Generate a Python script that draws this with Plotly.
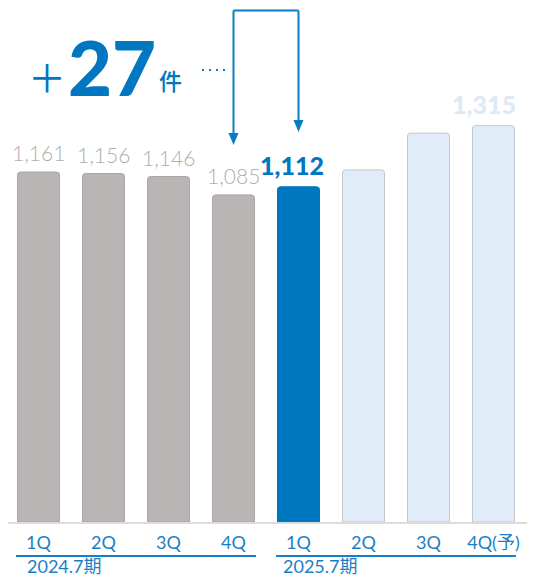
import plotly.graph_objects as go

# ---- data ----
quarters = ["1Q", "2Q", "3Q", "4Q", "1Q", "2Q", "3Q", "4Q(予)"]
values = [1161, 1156, 1146, 1085, 1112, 1168, 1290, 1315]
value_labels = ["1,161", "1,156", "1,146", "1,085", "1,112", "", "", "1,315"]
fiscal_years = ["2024.7期", "2025.7期"]
diff_text = "27"
diff_unit = "件"

# ---- styles / geometry (screen pixels; page body has an 8px margin) ----
OFF = 8
W, H = 535 - OFF, 579 - OFF
ML, MR, MT = 0, 0, 0
PLOT_BOTTOM = 522 - OFF          # screen y of baseline, in figure pixels
MB = H - PLOT_BOTTOM
PW, PH = W - ML - MR, PLOT_BOTTOM - MT
BAND = 65.0                       # pixels per category
X0 = 6                            # screen x where the first category band starts
PX_PER_UNIT = 350 / 1161          # pixels per value unit

GRAY, GRAY_LINE = "#b8b5b4", "#a9a6a5"
BLUE = "#0077c0"
LIGHT, LIGHT_LINE = "#e0ecf7", "#c5c9cd"
LABEL_GRAY = "#b0adac"
TICK_BLUE = "#1a7fc4"
ACOL = "#0a7cc4"

fill = [GRAY] * 4 + [BLUE] + [LIGHT] * 3
line = [GRAY_LINE] * 4 + [BLUE] + [LIGHT_LINE] * 3
x = list(range(len(values)))


def sx(p):  # screen pixel x -> x data units
    return (p - X0) / BAND - 0.5


def sy(p):  # screen pixel y -> paper y
    return (PLOT_BOTTOM - (p - OFF)) / PH


def sxp(p):  # screen pixel x -> paper x
    return (p - OFF - ML) / PW


xr = [sx(OFF + ML), sx(OFF + ML + PW)]
YMAX = PH / PX_PER_UNIT

fig = go.Figure()
fig.add_trace(go.Bar(
    x=x, y=values, width=42 / BAND,
    marker=dict(color=fill, line=dict(color=line, width=1), cornerradius=3),
    hoverinfo="skip",
))

annotations = []
for i, (v, lab) in enumerate(zip(values, value_labels)):
    if not lab:
        continue
    if i < 4:
        font = dict(family="Lato", size=21, color=LABEL_GRAY, weight=300)
        xs = 0
    elif i == 4:
        font = dict(family="Lato", size=25, color=BLUE, weight=900)
        xs = -7
    else:
        font = dict(family="Lato", size=25, color="#dde9f5", weight=900)
        xs = -10
    annotations.append(dict(x=i, y=v, xref="x", yref="y", text=lab, showarrow=False,
                            yanchor="bottom", yshift=5, xshift=xs, font=font))

# fiscal year labels
for k, fy in enumerate(fiscal_years):
    annotations.append(dict(x=sx(25 if k == 0 else 281), y=sy(579), xref="x", yref="paper",
                            text=fy, showarrow=False, xanchor="left", yanchor="bottom",
                            font=dict(family="Lato, Noto Sans CJK JP", size=18, color=TICK_BLUE)))

# +27件
annotations.append(dict(x=sxp(47), y=sy(76), xref="paper", yref="paper", text="＋",
                        showarrow=False, xanchor="center", yanchor="middle",
                        font=dict(family="Noto Sans CJK JP", size=38, color=BLUE, weight=400)))
annotations.append(dict(x=sxp(112), y=sy(66), xref="paper", yref="paper", text=diff_text,
                        showarrow=False, xanchor="center", yanchor="middle",
                        font=dict(family="Lato", size=76, color=BLUE, weight=900)))
annotations.append(dict(x=sxp(170), y=sy(80), xref="paper", yref="paper", text=diff_unit,
                        showarrow=False, xanchor="center", yanchor="middle",
                        font=dict(family="Noto Sans CJK JP", size=23, color=BLUE, weight=500)))

shapes = []
# fiscal-year underlines
for c in (1.5, 5.5):
    shapes.append(dict(type="line", xref="x", yref="paper", x0=c - 1.846, x1=c + 1.846,
                       y0=sy(556), y1=sy(556), line=dict(color=TICK_BLUE, width=2)))

# connector arrow between 4Q and next 1Q
top = sy(10.5)
tipL, tipR = sy(145), sy(132)
head_len = 12 / PH
head_w = 5 / BAND
shapes.append(dict(type="line", xref="x", yref="paper", x0=3, x1=3, y0=top, y1=tipL + head_len,
                   line=dict(color=ACOL, width=2)))
shapes.append(dict(type="line", xref="x", yref="paper", x0=4, x1=4, y0=top, y1=tipR + head_len,
                   line=dict(color=ACOL, width=2)))
shapes.append(dict(type="line", xref="x", yref="paper", x0=3, x1=4, y0=top, y1=top,
                   line=dict(color=ACOL, width=2)))
for xc, tip in ((3, tipL), (4, tipR)):
    shapes.append(dict(type="path", xref="x", yref="paper",
                       path=f"M {xc - head_w} {tip + head_len} L {xc + head_w} {tip + head_len} L {xc} {tip} Z",
                       fillcolor=ACOL, line=dict(color=ACOL, width=0)))
# dotted lead line
shapes.append(dict(type="line", xref="x", yref="paper", x0=sx(202), x1=sx(228),
                   y0=sy(70), y1=sy(70), line=dict(color=ACOL, width=2, dash="2px,5px")))

fig.update_layout(
    width=W, height=H,
    margin=dict(l=ML, r=MR, t=MT, b=MB, pad=0),
    paper_bgcolor="white", plot_bgcolor="white",
    showlegend=False,
    annotations=annotations, shapes=shapes,
    xaxis=dict(range=xr, tickvals=x, ticktext=quarters,
               showgrid=False, zeroline=False, showline=True, linecolor="#dcdcdc", linewidth=2,
               ticks="", ticklabelstandoff=3,
               tickfont=dict(family="Lato, Noto Sans CJK JP", size=18, color=TICK_BLUE)),
    yaxis=dict(range=[0, YMAX], visible=False, showgrid=False, zeroline=False),
)

fig.write_html("out.html")
